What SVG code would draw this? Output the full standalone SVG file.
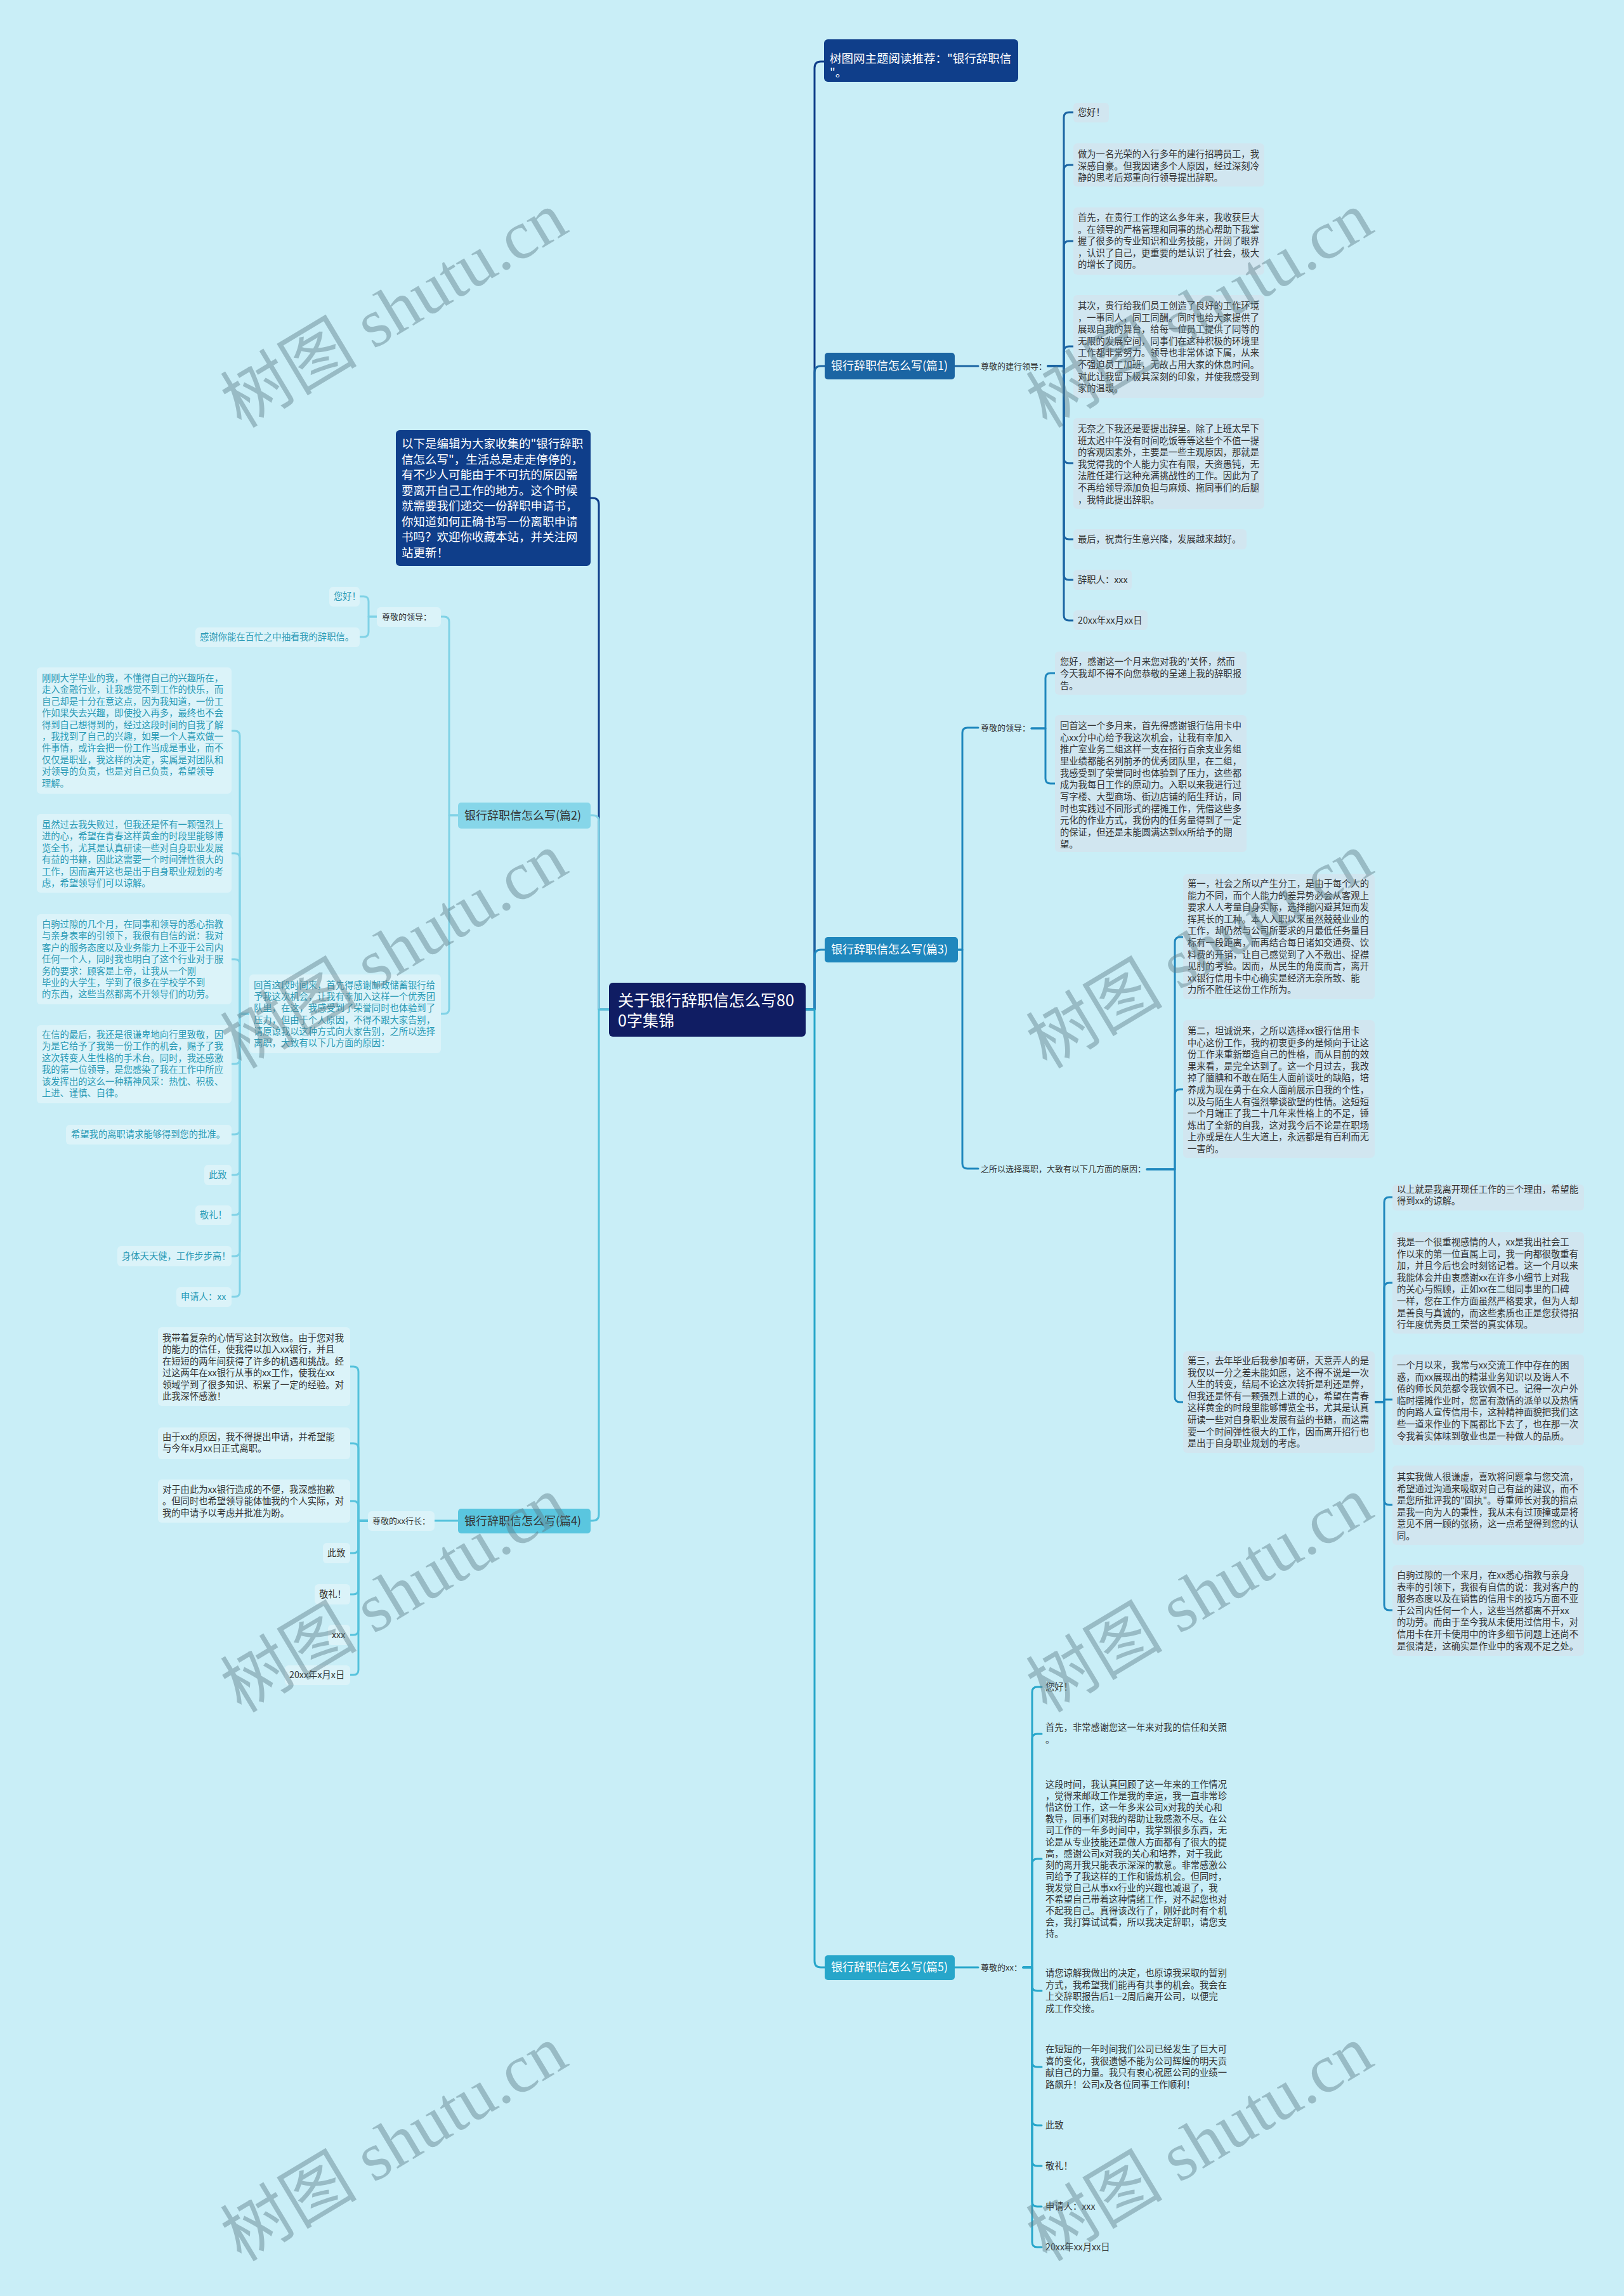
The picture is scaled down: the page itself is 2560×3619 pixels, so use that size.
<svg xmlns="http://www.w3.org/2000/svg" width="2560" height="3619" viewBox="0 0 2560 3619">
<style>
.f{font-family:"Noto Sans CJK SC","Noto Sans",sans-serif}
.leaf{font-size:14.3px;fill:#333}
.teal{fill:#2a9ab5}
.lab{font-size:13px;fill:#333}
.big{font-size:18.5px;fill:#fff}
.br{font-size:18px}
.box{fill:#d1e6f0}
.lbox{fill:#dbf3f9}
.c{fill:none;stroke-width:3;stroke-linecap:round;stroke-linejoin:round}
.wm{font-family:"Liberation Serif","Noto Sans CJK SC",serif;font-size:108px;fill:#5f7f8a;opacity:0.45}
</style>
<rect width="2560" height="3619" fill="#c9eef7"/>

<g id="connectors">
  <g class="c" stroke="#0f3e8a">
    <path d="M1270 1591 H1284 V107 Q1284 97 1294 97 H1300"/>
    <path d="M960 1591 H944 V795 Q944 785 934 785 H931"/>
  </g>
  <g class="c" stroke="#1b65a3">
    <path d="M1270 1591 H1284 V587 Q1284 577 1294 577 H1300"/>
    <path d="M1505 577 H1542"/>
    <path d="M1652 577 H1677 V185 Q1677 177 1685 177 H1692"/>
    <path d="M1652 577 H1677 V268 Q1677 260 1685 260 H1692"/>
    <path d="M1652 577 H1677 V388 Q1677 380 1685 380 H1692"/>
    <path d="M1652 577 H1677 V554 Q1677 546 1685 546 H1692"/>
    <path d="M1652 577 H1677 V722 Q1677 730 1685 730 H1692"/>
    <path d="M1652 577 H1677 V842 Q1677 850 1685 850 H1692"/>
    <path d="M1652 577 H1677 V906 Q1677 914 1685 914 H1692"/>
    <path d="M1652 577 H1677 V970 Q1677 978 1685 978 H1692"/>
  </g>
  <g class="c" stroke="#1f87bd">
    <path d="M1270 1591 H1284 V1507 Q1284 1497 1294 1497 H1300"/>
    <path d="M1510 1497 H1517 V1155 Q1517 1147 1525 1147 H1542"/>
    <path d="M1510 1497 H1517 V1834 Q1517 1842 1525 1842 H1542"/>
    <path d="M1626 1148 H1648 V1069 Q1648 1061 1656 1061 H1663"/>
    <path d="M1626 1148 H1648 V1227 Q1648 1235 1656 1235 H1663"/>
    <path d="M1808 1843 H1852 V1485 Q1852 1477 1860 1477 H1865"/>
    <path d="M1808 1843 H1852 V1725 Q1852 1717 1860 1717 H1865"/>
    <path d="M1808 1843 H1852 V2202 Q1852 2210 1860 2210 H1865"/>
    <path d="M2167 2210 H2182 V1895 Q2182 1887 2190 1887 H2195"/>
    <path d="M2167 2210 H2182 V2030 Q2182 2022 2190 2022 H2195"/>
    <path d="M2167 2210 H2182 V2206 H2195"/>
    <path d="M2167 2210 H2182 V2364 Q2182 2372 2190 2372 H2195"/>
    <path d="M2167 2210 H2182 V2530 Q2182 2538 2190 2538 H2195"/>
  </g>
  <g class="c" stroke="#27a6ca">
    <path d="M1270 1591 H1284 V3091 Q1284 3101 1294 3101 H1300"/>
    <path d="M1505 3101 H1542"/>
    <path d="M1613 3101 H1627 V2667 Q1627 2659 1635 2659 H1642"/>
    <path d="M1613 3101 H1627 V2741 Q1627 2733 1635 2733 H1642"/>
    <path d="M1613 3101 H1627 V2938 Q1627 2930 1635 2930 H1642"/>
    <path d="M1613 3101 H1627 V3130 Q1627 3138 1635 3138 H1642"/>
    <path d="M1613 3101 H1627 V3250 Q1627 3258 1635 3258 H1642"/>
    <path d="M1613 3101 H1627 V3342 Q1627 3350 1635 3350 H1642"/>
    <path d="M1613 3101 H1627 V3406 Q1627 3414 1635 3414 H1642"/>
    <path d="M1613 3101 H1627 V3470 Q1627 3478 1635 3478 H1642"/>
    <path d="M1613 3101 H1627 V3534 Q1627 3542 1635 3542 H1642"/>
  </g>
  <g class="c" stroke="#80d2e6">
    <path d="M960 1591 H944 V1295 Q944 1285 934 1285 H931"/>
    <path d="M722 1285 H708 V980 Q708 972 700 972 H695"/>
    <path d="M722 1285 H708 V1590 Q708 1598 700 1598 H695"/>
    <path d="M594 972 H581 V948 Q581 940 573 940 H567"/>
    <path d="M594 972 H581 V996 Q581 1004 573 1004 H567"/>
    <path d="M393 1598 H378 V1160 Q378 1152 370 1152 H365"/>
    <path d="M393 1598 H378 V1353 Q378 1345 370 1345 H365"/>
    <path d="M393 1598 H378 V1520 Q378 1512 370 1512 H365"/>
    <path d="M393 1598 H378 V1669 Q378 1677 370 1677 H365"/>
    <path d="M393 1598 H378 V1780 Q378 1788 370 1788 H365"/>
    <path d="M393 1598 H378 V1844 Q378 1852 370 1852 H365"/>
    <path d="M393 1598 H378 V1907 Q378 1915 370 1915 H365"/>
    <path d="M393 1598 H378 V1972 Q378 1980 370 1980 H365"/>
    <path d="M393 1598 H378 V2036 Q378 2044 370 2044 H365"/>
  </g>
  <g class="c" stroke="#55c2dc">
    <path d="M960 1591 H944 V2387 Q944 2397 934 2397 H931"/>
    <path d="M722 2397 H685"/>
    <path d="M580 2397 H565 V2162 Q565 2154 557 2154 H552"/>
    <path d="M580 2397 H565 V2283 Q565 2275 557 2275 H552"/>
    <path d="M580 2397 H565 V2374 Q565 2366 557 2366 H552"/>
    <path d="M580 2397 H565 V2440 Q565 2448 557 2448 H552"/>
    <path d="M580 2397 H565 V2505 Q565 2513 557 2513 H552"/>
    <path d="M580 2397 H565 V2569 Q565 2577 557 2577 H552"/>
    <path d="M580 2397 H565 V2632 Q565 2640 557 2640 H552"/>
  </g>
</g>

<g id="root">
  <rect x="960" y="1549" width="310" height="85" rx="6" fill="#101d63"/>
  <text class="f" font-size="25" fill="#fff"><tspan x="974" y="1586">关于银行辞职信怎么写80</tspan><tspan x="974" y="1618">0字集锦</tspan></text>
</g>

<g id="title-node">
  <rect x="1299" y="62" width="306" height="67" rx="6" fill="#0f3e8a"/>
  <text class="f big"><tspan x="1308" y="99">树图网主题阅读推荐："银行辞职信</tspan><tspan x="1308" y="121">"。</tspan></text>
</g>

<g id="intro-node">
  <rect x="624" y="678" width="307" height="214" rx="6" fill="#0f3e8a"/>
  <text class="f big">
    <tspan x="633" y="706">以下是编辑为大家收集的"银行辞职</tspan>
    <tspan x="633" y="731">信怎么写"，生活总是走走停停的，</tspan>
    <tspan x="633" y="755">有不少人可能由于不可抗的原因需</tspan>
    <tspan x="633" y="780">要离开自己工作的地方。这个时候</tspan>
    <tspan x="633" y="804">就需要我们递交一份辞职申请书，</tspan>
    <tspan x="633" y="829">你知道如何正确书写一份离职申请</tspan>
    <tspan x="633" y="853">书吗？欢迎你收藏本站，并关注网</tspan>
    <tspan x="633" y="878">站更新！</tspan>
  </text>
</g>

<g id="p1">
  <g id="p1-node">
    <rect x="1300" y="556" width="205" height="42" rx="5" fill="#1b65a3"/>
    <text class="f br" fill="#fff" x="1310" y="583">银行辞职信怎么写(篇1)</text>
  </g>
  <g id="p1-label"><text class="f lab" x="1546" y="582">尊敬的建行领导：</text></g>
  <g id="p1-a"><rect class="box" x="1692" y="162" width="56" height="31" rx="6"/><text class="f leaf" x="1699" y="182">您好！</text></g>
  <g id="p1-b"><rect class="box" x="1692" y="226" width="301" height="68" rx="6"/>
    <text class="f leaf"><tspan x="1699" y="248">做为一名光荣的入行多年的建行招聘员工，我</tspan><tspan x="1699" y="267">深感自豪。但我因诸多个人原因，经过深刻冷</tspan><tspan x="1699" y="285">静的思考后郑重向行领导提出辞职。</tspan></text></g>
  <g id="p1-c"><rect class="box" x="1692" y="327" width="301" height="106" rx="6"/>
    <text class="f leaf"><tspan x="1699" y="348">首先，在贵行工作的这么多年来，我收获巨大</tspan><tspan x="1699" y="367">。在领导的严格管理和同事的热心帮助下我掌</tspan><tspan x="1699" y="385">握了很多的专业知识和业务技能，开阔了眼界</tspan><tspan x="1699" y="404">，认识了自己，更重要的是认识了社会，极大</tspan><tspan x="1699" y="422">的增长了阅历。</tspan></text></g>
  <g id="p1-d"><rect class="box" x="1692" y="465" width="301" height="162" rx="6"/>
    <text class="f leaf"><tspan x="1699" y="487">其次，贵行给我们员工创造了良好的工作环境</tspan><tspan x="1699" y="506">，一事同人，同工同酬。同时也给大家提供了</tspan><tspan x="1699" y="524">展现自我的舞台，给每一位员工提供了同等的</tspan><tspan x="1699" y="543">无限的发展空间，同事们在这种积极的环境里</tspan><tspan x="1699" y="561">工作都非常努力。领导也非常体谅下属，从来</tspan><tspan x="1699" y="580">不强迫员工加班，无故占用大家的休息时间。</tspan><tspan x="1699" y="599">对此让我留下极其深刻的印象，并使我感受到</tspan><tspan x="1699" y="617">家的温暖。</tspan></text></g>
  <g id="p1-e"><rect class="box" x="1692" y="659" width="301" height="143" rx="6"/>
    <text class="f leaf"><tspan x="1699" y="681">无奈之下我还是要提出辞呈。除了上班太早下</tspan><tspan x="1699" y="700">班太迟中午没有时间吃饭等等这些个不值一提</tspan><tspan x="1699" y="718">的客观因素外，主要是一些主观原因，那就是</tspan><tspan x="1699" y="737">我觉得我的个人能力实在有限，天资愚钝，无</tspan><tspan x="1699" y="755">法胜任建行这种充满挑战性的工作。因此为了</tspan><tspan x="1699" y="774">不再给领导添加负担与麻烦、拖同事们的后腿</tspan><tspan x="1699" y="793">，我特此提出辞职。</tspan></text></g>
  <g id="p1-f"><rect class="box" x="1692" y="834" width="273" height="32" rx="6"/><text class="f leaf" x="1699" y="855">最后，祝贵行生意兴隆，发展越来越好。</text></g>
  <g id="p1-g"><rect class="box" x="1692" y="898" width="92" height="32" rx="6"/><text class="f leaf" x="1699" y="919">辞职人：xxx</text></g>
  <g id="p1-h"><rect class="box" x="1692" y="962" width="117" height="31" rx="6"/><text class="f leaf" x="1699" y="983">20xx年xx月xx日</text></g>
</g>

<g id="p3">
  <g id="p3-node">
    <rect x="1300" y="1477" width="210" height="40" rx="5" fill="#1f87bd"/>
    <text class="f br" fill="#fff" x="1310" y="1503">银行辞职信怎么写(篇3)</text>
  </g>
  <g id="p3-label1"><text class="f lab" x="1546" y="1152">尊敬的领导：</text></g>
  <g id="p3-a"><rect class="box" x="1663" y="1027" width="302" height="68" rx="6"/>
    <text class="f leaf"><tspan x="1671" y="1048">您好，感谢这一个月来您对我的'关怀，然而</tspan><tspan x="1671" y="1067">今天我却不得不向您恭敬的呈递上我的辞职报</tspan><tspan x="1671" y="1086">告。</tspan></text></g>
  <g id="p3-b"><rect class="box" x="1663" y="1127" width="302" height="216" rx="6"/>
    <text class="f leaf"><tspan x="1671" y="1149">回首这一个多月来，首先得感谢银行信用卡中</tspan><tspan x="1671" y="1168">心xx分中心给予我这次机会，让我有幸加入</tspan><tspan x="1671" y="1186">推广室业务二组这样一支在招行百余支业务组</tspan><tspan x="1671" y="1205">里业绩都能名列前矛的优秀团队里，在二组，</tspan><tspan x="1671" y="1224">我感受到了荣誉同时也体验到了压力，这些都</tspan><tspan x="1671" y="1242">成为我每日工作的原动力。入职以来我进行过</tspan><tspan x="1671" y="1261">写字楼、大型商场、街边店铺的陌生拜访，同</tspan><tspan x="1671" y="1280">时也实践过不同形式的摆摊工作，凭借这些多</tspan><tspan x="1671" y="1298">元化的作业方式，我份内的任务量得到了一定</tspan><tspan x="1671" y="1317">的保证，但还是未能圆满达到xx所给予的期</tspan><tspan x="1671" y="1336">望。</tspan></text></g>
  <g id="p3-label2"><text class="f lab" x="1546" y="1847">之所以选择离职，大致有以下几方面的原因：</text></g>
  <g id="p3-c"><rect class="box" x="1865" y="1378" width="302" height="197" rx="6"/>
    <text class="f leaf"><tspan x="1872" y="1398">第一，社会之所以产生分工，是由于每个人的</tspan><tspan x="1872" y="1417">能力不同，而个人能力的差异势必会从客观上</tspan><tspan x="1872" y="1435">要求人人考量自身实际，选择能闪避其短而发</tspan><tspan x="1872" y="1454">挥其长的工种。本人入职以来虽然兢兢业业的</tspan><tspan x="1872" y="1472">工作，却仍然与公司所要求的月最低任务量目</tspan><tspan x="1872" y="1491">标有一段距离，而再结合每日诸如交通费、饮</tspan><tspan x="1872" y="1510">料费的开销，让自己感觉到了入不敷出、捉襟</tspan><tspan x="1872" y="1528">见肘的考验。因而，从民生的角度而言，离开</tspan><tspan x="1872" y="1547">xx银行信用卡中心确实是经济无奈所致、能</tspan><tspan x="1872" y="1565">力所不胜任这份工作所为。</tspan></text></g>
  <g id="p3-d"><rect class="box" x="1865" y="1608" width="302" height="217" rx="6"/>
    <text class="f leaf"><tspan x="1872" y="1630">第二，坦诚说来，之所以选择xx银行信用卡</tspan><tspan x="1872" y="1649">中心这份工作，我的初衷更多的是倾向于让这</tspan><tspan x="1872" y="1667">份工作来重新塑造自己的性格，而从目前的效</tspan><tspan x="1872" y="1686">果来看，是完全达到了。这一个月过去，我改</tspan><tspan x="1872" y="1704">掉了腼腆和不敢在陌生人面前谈吐的缺陷，培</tspan><tspan x="1872" y="1723">养成为现在勇于在众人面前展示自我的个性，</tspan><tspan x="1872" y="1742">以及与陌生人有强烈攀谈欲望的性情。这短短</tspan><tspan x="1872" y="1760">一个月端正了我二十几年来性格上的不足，锤</tspan><tspan x="1872" y="1779">炼出了全新的自我，这对我今后不论是在职场</tspan><tspan x="1872" y="1797">上亦或是在人生大道上，永远都是有百利而无</tspan><tspan x="1872" y="1816">一害的。</tspan></text></g>
  <g id="p3-e"><rect class="box" x="1865" y="2130" width="302" height="160" rx="6"/>
    <text class="f leaf"><tspan x="1872" y="2150">第三，去年毕业后我参加考研，天意弄人的是</tspan><tspan x="1872" y="2169">我仅以一分之差未能如愿，这不得不说是一次</tspan><tspan x="1872" y="2187">人生的转变，结局不论这次转折是利还是弊，</tspan><tspan x="1872" y="2206">但我还是怀有一颗强烈上进的心，希望在青春</tspan><tspan x="1872" y="2224">这样黄金的时段里能够博览全书，尤其是认真</tspan><tspan x="1872" y="2243">研读一些对自身职业发展有益的书籍，而这需</tspan><tspan x="1872" y="2262">要一个时间弹性很大的工作，因而离开招行也</tspan><tspan x="1872" y="2280">是出于自身职业规划的考虑。</tspan></text></g>
  <g id="p3-f"><rect class="box" x="2195" y="1867" width="302" height="41" rx="6"/>
    <text class="f leaf"><tspan x="2202" y="1880">以上就是我离开现任工作的三个理由，希望能</tspan><tspan x="2202" y="1898">得到xx的谅解。</tspan></text></g>
  <g id="p3-g"><rect class="box" x="2195" y="1942" width="302" height="160" rx="6"/>
    <text class="f leaf"><tspan x="2202" y="1963">我是一个很重视感情的人，xx是我出社会工</tspan><tspan x="2202" y="1982">作以来的第一位直属上司，我一向都很敬重有</tspan><tspan x="2202" y="2000">加，并且今后也会时刻铭记着。这一个月以来</tspan><tspan x="2202" y="2019">我能体会并由衷感谢xx在许多小细节上对我</tspan><tspan x="2202" y="2037">的关心与照顾，正如xx在二组同事里的口碑</tspan><tspan x="2202" y="2056">一样，您在工作方面虽然严格要求，但为人却</tspan><tspan x="2202" y="2075">是善良与真诚的，而这些素质也正是您获得招</tspan><tspan x="2202" y="2093">行年度优秀员工荣誉的真实体现。</tspan></text></g>
  <g id="p3-h"><rect class="box" x="2195" y="2135" width="302" height="143" rx="6"/>
    <text class="f leaf"><tspan x="2202" y="2157">一个月以来，我常与xx交流工作中存在的困</tspan><tspan x="2202" y="2176">惑，而xx展现出的精湛业务知识以及诲人不</tspan><tspan x="2202" y="2194">倦的师长风范都令我钦佩不已。记得一次户外</tspan><tspan x="2202" y="2213">临时摆摊作业时，您富有激情的派单以及热情</tspan><tspan x="2202" y="2231">的向路人宣传信用卡，这种精神面貌把我们这</tspan><tspan x="2202" y="2250">些一道来作业的下属都比下去了，也在那一次</tspan><tspan x="2202" y="2269">令我着实体味到敬业也是一种做人的品质。</tspan></text></g>
  <g id="p3-i"><rect class="box" x="2195" y="2310" width="302" height="125" rx="6"/>
    <text class="f leaf"><tspan x="2202" y="2333">其实我做人很谦虚，喜欢将问题拿与您交流，</tspan><tspan x="2202" y="2352">希望通过沟通来吸取对自己有益的建议，而不</tspan><tspan x="2202" y="2370">是您所批评我的"固执"。尊重师长对我的指点</tspan><tspan x="2202" y="2389">是我一向为人的秉性，我从未有过顶撞或是将</tspan><tspan x="2202" y="2407">意见不屑一顾的张扬，这一点希望得到您的认</tspan><tspan x="2202" y="2426">同。</tspan></text></g>
  <g id="p3-j"><rect class="box" x="2195" y="2467" width="302" height="143" rx="6"/>
    <text class="f leaf"><tspan x="2202" y="2488">白驹过隙的一个来月，在xx悉心指教与亲身</tspan><tspan x="2202" y="2507">表率的引领下，我很有自信的说：我对客户的</tspan><tspan x="2202" y="2525">服务态度以及在销售的信用卡的技巧方面不亚</tspan><tspan x="2202" y="2544">于公司内任何一个人，这些当然都离不开xx</tspan><tspan x="2202" y="2562">的功劳。而由于至今我从未使用过信用卡，对</tspan><tspan x="2202" y="2581">信用卡在开卡使用中的许多细节问题上还尚不</tspan><tspan x="2202" y="2600">是很清楚，这确实是作业中的客观不足之处。</tspan></text></g>
</g>

<g id="p5">
  <g id="p5-node">
    <rect x="1300" y="3082" width="205" height="39" rx="5" fill="#27a6ca"/>
    <text class="f br" fill="#fff" x="1310" y="3107">银行辞职信怎么写(篇5)</text>
  </g>
  <g id="p5-label"><text class="f lab" x="1546" y="3106">尊敬的xx：</text></g>
  <g id="p5-a"><text class="f leaf" x="1648" y="2664">您好！</text></g>
  <g id="p5-b"><text class="f leaf"><tspan x="1648" y="2728">首先，非常感谢您这一年来对我的信任和关照</tspan><tspan x="1648" y="2747">。</tspan></text></g>
  <g id="p5-c"><text class="f leaf"><tspan x="1648" y="2818">这段时间，我认真回顾了这一年来的工作情况</tspan><tspan x="1648" y="2836">，觉得来邮政工作是我的幸运，我一直非常珍</tspan><tspan x="1648" y="2854">惜这份工作，这一年多来公司x对我的关心和</tspan><tspan x="1648" y="2872">教导，同事们对我的帮助让我感激不尽。在公</tspan><tspan x="1648" y="2890">司工作的一年多时间中，我学到很多东西，无</tspan><tspan x="1648" y="2909">论是从专业技能还是做人方面都有了很大的提</tspan><tspan x="1648" y="2927">高，感谢公司x对我的关心和培养，对于我此</tspan><tspan x="1648" y="2945">刻的离开我只能表示深深的歉意。非常感激公</tspan><tspan x="1648" y="2963">司给予了我这样的工作和锻炼机会。但同时，</tspan><tspan x="1648" y="2981">我发觉自己从事xx行业的兴趣也减退了，我</tspan><tspan x="1648" y="2999">不希望自己带着这种情绪工作，对不起您也对</tspan><tspan x="1648" y="3017">不起我自己。真得该改行了，刚好此时有个机</tspan><tspan x="1648" y="3035">会，我打算试试看，所以我决定辞职，请您支</tspan><tspan x="1648" y="3053">持。</tspan></text></g>
  <g id="p5-d"><text class="f leaf"><tspan x="1648" y="3115">请您谅解我做出的决定，也原谅我采取的暂别</tspan><tspan x="1648" y="3134">方式，我希望我们能再有共事的机会。我会在</tspan><tspan x="1648" y="3152">上交辞职报告后1—2周后离开公司，以便完</tspan><tspan x="1648" y="3171">成工作交接。</tspan></text></g>
  <g id="p5-e"><text class="f leaf"><tspan x="1648" y="3235">在短短的一年时间我们公司已经发生了巨大可</tspan><tspan x="1648" y="3254">喜的变化，我很遗憾不能为公司辉煌的明天贡</tspan><tspan x="1648" y="3272">献自己的力量。我只有衷心祝愿公司的业绩一</tspan><tspan x="1648" y="3291">路飙升！公司x及各位同事工作顺利！</tspan></text></g>
  <g id="p5-f"><text class="f leaf" x="1648" y="3355">此致</text></g>
  <g id="p5-g"><text class="f leaf" x="1648" y="3419">敬礼！</text></g>
  <g id="p5-h"><text class="f leaf" x="1648" y="3483">申请人：xxx</text></g>
  <g id="p5-i"><text class="f leaf" x="1648" y="3547">20xx年xx月xx日</text></g>
</g>

<g id="p2">
  <g id="p2-node">
    <rect x="722" y="1265" width="209" height="41" rx="5" fill="#86d6e9"/>
    <text class="f br" fill="#333" x="732" y="1292">银行辞职信怎么写(篇2)</text>
  </g>
  <g id="p2-label"><rect class="lbox" x="594" y="957" width="101" height="31" rx="6"/><text class="f lab teal" x="602" y="977">尊敬的领导：</text></g>
  <g id="p2-hello"><rect class="lbox" x="519" y="925" width="48" height="31" rx="6"/><text class="f leaf teal" x="526" y="945">您好！</text></g>
  <g id="p2-thanks"><rect class="lbox" x="308" y="989" width="259" height="31" rx="6"/><text class="f leaf teal" x="315" y="1009">感谢你能在百忙之中抽看我的辞职信。</text></g>
  <g id="p2-mid"><rect class="lbox" x="393" y="1536" width="302" height="124" rx="6"/>
    <text class="f leaf teal"><tspan x="400" y="1558">回首这段时间来，首先得感谢邮政储蓄银行给</tspan><tspan x="400" y="1576">予我这次机会，让我有幸加入这样一个优秀团</tspan><tspan x="400" y="1594">队里，在这，我感受到了荣誉同时也体验到了</tspan><tspan x="400" y="1613">压力，但由于个人原因，不得不跟大家告别，</tspan><tspan x="400" y="1631">请原谅我以这种方式向大家告别，之所以选择</tspan><tspan x="400" y="1649">离职，大致有以下几方面的原因：</tspan></text></g>
  <g id="p2-a"><rect class="lbox" x="58" y="1052" width="307" height="199" rx="6"/>
    <text class="f leaf teal"><tspan x="66" y="1074">刚刚大学毕业的我，不懂得自己的兴趣所在，</tspan><tspan x="66" y="1092">走入金融行业，让我感觉不到工作的快乐，而</tspan><tspan x="66" y="1111">自己却是十分在意这点，因为我知道，一份工</tspan><tspan x="66" y="1129">作如果失去兴趣，即使投入再多，最终也不会</tspan><tspan x="66" y="1148">得到自己想得到的，经过这段时间的自我了解</tspan><tspan x="66" y="1166">，我找到了自己的兴趣，如果一个人喜欢做一</tspan><tspan x="66" y="1184">件事情，或许会把一份工作当成是事业，而不</tspan><tspan x="66" y="1203">仅仅是职业，我这样的决定，实属是对团队和</tspan><tspan x="66" y="1221">对领导的负责，也是对自己负责，希望领导</tspan><tspan x="66" y="1240">理解。</tspan></text></g>
  <g id="p2-b"><rect class="lbox" x="58" y="1283" width="307" height="124" rx="6"/>
    <text class="f leaf teal"><tspan x="66" y="1305">虽然过去我失败过，但我还是怀有一颗强烈上</tspan><tspan x="66" y="1323">进的心，希望在青春这样黄金的时段里能够博</tspan><tspan x="66" y="1342">览全书，尤其是认真研读一些对自身职业发展</tspan><tspan x="66" y="1360">有益的书籍，因此这需要一个时间弹性很大的</tspan><tspan x="66" y="1379">工作，因而离开这也是出于自身职业规划的考</tspan><tspan x="66" y="1397">虑，希望领导们可以谅解。</tspan></text></g>
  <g id="p2-c"><rect class="lbox" x="58" y="1441" width="307" height="142" rx="6"/>
    <text class="f leaf teal"><tspan x="66" y="1462">白驹过隙的几个月，在同事和领导的悉心指教</tspan><tspan x="66" y="1480">与亲身表率的引领下，我很有自信的说：我对</tspan><tspan x="66" y="1499">客户的服务态度以及业务能力上不亚于公司内</tspan><tspan x="66" y="1517">任何一个人，同时我也明白了这个行业对于服</tspan><tspan x="66" y="1536">务的要求：顾客是上帝，让我从一个刚</tspan><tspan x="66" y="1554">毕业的大学生，学到了很多在学校学不到</tspan><tspan x="66" y="1572">的东西，这些当然都离不开领导们的功劳。</tspan></text></g>
  <g id="p2-d"><rect class="lbox" x="58" y="1616" width="307" height="123" rx="6"/>
    <text class="f leaf teal"><tspan x="66" y="1636">在信的最后，我还是很谦卑地向行里致敬，因</tspan><tspan x="66" y="1654">为是它给予了我第一份工作的机会，赐予了我</tspan><tspan x="66" y="1673">这次转变人生性格的手术台。同时，我还感激</tspan><tspan x="66" y="1691">我的第一位领导，是您感染了我在工作中所应</tspan><tspan x="66" y="1710">该发挥出的这么一种精神风采：热忱、积极、</tspan><tspan x="66" y="1728">上进、谨慎、自律。</tspan></text></g>
  <g id="p2-e"><rect class="lbox" x="104" y="1773" width="261" height="31" rx="6"/><text class="f leaf teal" x="112" y="1793">希望我的离职请求能够得到您的批准。</text></g>
  <g id="p2-f"><rect class="lbox" x="322" y="1836" width="43" height="32" rx="6"/><text class="f leaf teal" x="329" y="1857">此致</text></g>
  <g id="p2-g"><rect class="lbox" x="308" y="1900" width="57" height="31" rx="6"/><text class="f leaf teal" x="315" y="1920">敬礼！</text></g>
  <g id="p2-h"><rect class="lbox" x="185" y="1964" width="180" height="32" rx="6"/><text class="f leaf teal" x="192" y="1985">身体天天健，工作步步高！</text></g>
  <g id="p2-i"><rect class="lbox" x="278" y="2029" width="87" height="31" rx="6"/><text class="f leaf teal" x="285" y="2049">申请人：xx</text></g>
</g>

<g id="p4">
  <g id="p4-node">
    <rect x="722" y="2378" width="209" height="39" rx="5" fill="#5ac6df"/>
    <text class="f br" fill="#333" x="732" y="2404">银行辞职信怎么写(篇4)</text>
  </g>
  <g id="p4-label"><rect class="lbox" x="580" y="2382" width="105" height="31" rx="6"/><text class="f lab" x="587" y="2402">尊敬的xx行长：</text></g>
  <g id="p4-a"><rect class="lbox" x="249" y="2092" width="303" height="124" rx="6"/>
    <text class="f leaf"><tspan x="256" y="2114">我带着复杂的心情写这封次致信。由于您对我</tspan><tspan x="256" y="2132">的能力的信任，使我得以加入xx银行，并且</tspan><tspan x="256" y="2151">在短短的两年间获得了许多的机遇和挑战。经</tspan><tspan x="256" y="2169">过这两年在xx银行从事的xx工作，使我在xx</tspan><tspan x="256" y="2188">领域学到了很多知识、积累了一定的经验。对</tspan><tspan x="256" y="2206">此我深怀感激！</tspan></text></g>
  <g id="p4-b"><rect class="lbox" x="249" y="2250" width="303" height="50" rx="6"/>
    <text class="f leaf"><tspan x="256" y="2270">由于xx的原因，我不得提出申请，并希望能</tspan><tspan x="256" y="2288">与今年x月xx日正式离职。</tspan></text></g>
  <g id="p4-c"><rect class="lbox" x="249" y="2332" width="303" height="68" rx="6"/>
    <text class="f leaf"><tspan x="256" y="2353">对于由此为xx银行造成的不便，我深感抱歉</tspan><tspan x="256" y="2371">。但同时也希望领导能体恤我的个人实际，对</tspan><tspan x="256" y="2390">我的申请予以考虑并批准为盼。</tspan></text></g>
  <g id="p4-d"><rect class="lbox" x="509" y="2432" width="43" height="32" rx="6"/><text class="f leaf" x="516" y="2453">此致</text></g>
  <g id="p4-e"><rect class="lbox" x="496" y="2497" width="56" height="32" rx="6"/><text class="f leaf" x="503" y="2518">敬礼！</text></g>
  <g id="p4-f"><rect class="lbox" x="517" y="2561" width="35" height="32" rx="6"/><text class="f leaf" x="523" y="2582">xxx</text></g>
  <g id="p4-g"><rect class="lbox" x="449" y="2625" width="103" height="31" rx="6"/><text class="f leaf" x="456" y="2645">20xx年x月x日</text></g>
</g>

<g id="watermarks">
  <text class="wm" text-anchor="middle" transform="translate(640 520) rotate(-31)">树图 shutu.cn</text>
  <text class="wm" text-anchor="middle" transform="translate(1910 520) rotate(-31)">树图 shutu.cn</text>
  <text class="wm" text-anchor="middle" transform="translate(640 1530) rotate(-31)">树图 shutu.cn</text>
  <text class="wm" text-anchor="middle" transform="translate(1910 1530) rotate(-31)">树图 shutu.cn</text>
  <text class="wm" text-anchor="middle" transform="translate(640 2545) rotate(-31)">树图 shutu.cn</text>
  <text class="wm" text-anchor="middle" transform="translate(1910 2545) rotate(-31)">树图 shutu.cn</text>
  <text class="wm" text-anchor="middle" transform="translate(640 3410) rotate(-31)">树图 shutu.cn</text>
  <text class="wm" text-anchor="middle" transform="translate(1910 3410) rotate(-31)">树图 shutu.cn</text>
</g>
</svg>
